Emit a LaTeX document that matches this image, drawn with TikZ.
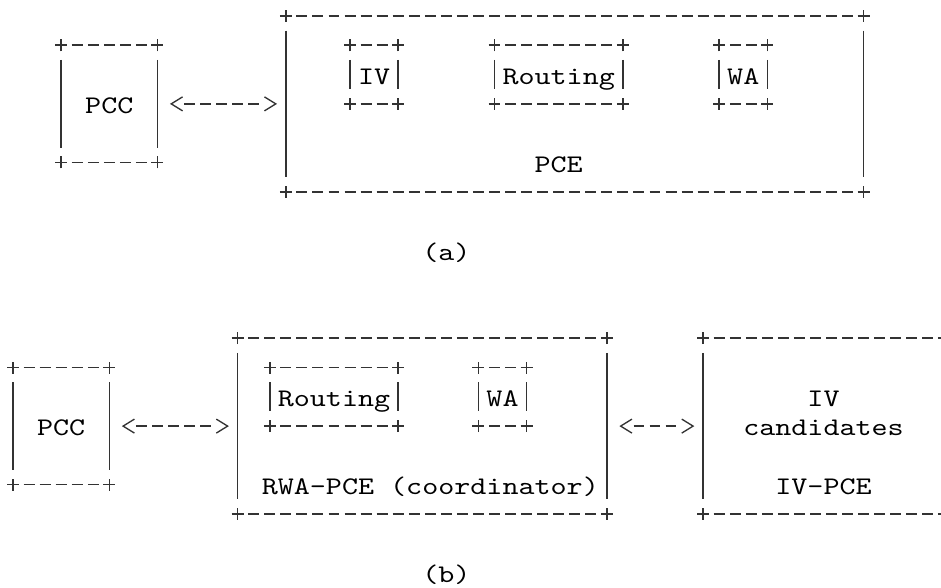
\documentclass[tikz,border=0pt]{standalone}
\usepackage{fontspec}
\usepackage{tikz}
\usetikzlibrary{arrows.meta}
\newfontfamily\rfcMono{lmmono10-regular}[Extension=.otf, FakeStretch=1.207]
\colorlet{colStroke}{black!80}

\begin{document}
\begin{tikzpicture}[
        x=12.04pt, y=-21.975pt,
        monoText/.style={font=\rfcMono\fontsize{19pt}{22pt}\selectfont, inner sep=0pt, outer sep=0pt, text height=16.8pt, text depth=2pt},
        asciiBox/.style 2 args={monoText, rectangle, minimum width=#1*12.04pt, minimum height=#2*21.975pt},
        dashRule/.style={draw=colStroke, line width=1.2pt, dash pattern=on 8.19pt off 3.85pt, dash phase=10.11pt},
        barRule/.style={draw=colStroke, line width=1.2pt},
        link/.style={draw=colStroke, line width=1.2pt, shorten <=20pt, shorten >=20pt, dash pattern=on 8.19pt off 3.85pt,
            postaction={draw=colStroke, line width=1pt, {Straight Barb[length=8.5pt, width=10.5pt]}-{Straight Barb[length=8.5pt, width=10.5pt]},
                shorten <=9.4pt, shorten >=6.6pt, dash pattern=on 0pt off 500pt}}
    ]
        \useasboundingbox (-0.81, -0.546) rectangle (57.82, 19.52);

        % (a) PCC with a single PCE holding IV, Routing and WA
        \node[asciiBox={6}{4}] (pccA) at (6, 3) {PCC};
        \node[asciiBox={36}{6}] (pceA) at (35, 3) {};
        \node[asciiBox={3}{2}] (ivA) at (22.5, 2) {IV};
        \node[asciiBox={8}{2}] (routingA) at (34, 2) {Routing};
        \node[asciiBox={3}{2}] (waA) at (45.5, 2) {WA};
        \node[monoText] (pceLabel) at (34, 5) {PCE};
        \node[monoText] (capA) at (27, 8) {(a)};

        % (b) RWA-PCE coordinating with a separate IV-PCE
        \node[asciiBox={6}{4}] (pccB) at (3, 14) {PCC};
        \node[asciiBox={23}{6}] (rwaB) at (25.5, 14) {};
        \node[asciiBox={8}{2}] (routingB) at (20, 13) {Routing};
        \node[asciiBox={3}{2}] (waB) at (30.5, 13) {WA};
        \node[monoText] (rwaLabel) at (26, 16) {RWA-PCE (coordinator)};
        \node[asciiBox={15}{6}] (ivpceB) at (50.5, 14) {};
        \node[monoText] (ivLine) at (50.5, 13) {IV};
        \node[monoText] (candLine) at (50.5, 14) {candidates};
        \node[monoText] (ivpceLabel) at (50.5, 16) {IV-PCE};
        \node[monoText] (capB) at (27, 19) {(b)};

        % Outlines: dashed tops and bottoms, bars on the sides, + at the corners
        \foreach \b in {pccA,pceA,ivA,routingA,waA,pccB,rwaB,routingB,waB,ivpceB}{
            \draw[dashRule] ([xshift=6.02pt]\b.north west) -- ([xshift=-6.02pt]\b.north east);
            \draw[dashRule] ([xshift=6.02pt]\b.south west) -- ([xshift=-6.02pt]\b.south east);
            \draw[barRule] ([yshift=-10.99pt]\b.north west) -- ([yshift=10.99pt]\b.south west);
            \draw[barRule] ([yshift=-10.99pt]\b.north east) -- ([yshift=10.99pt]\b.south east);
            \foreach \c in {north west,north east,south west,south east}
                \draw[barRule] ([xshift=-4.5pt]\b.\c) -- ([xshift=4.5pt]\b.\c)
                               ([yshift=-4.5pt]\b.\c) -- ([yshift=4.5pt]\b.\c);
        }

        % Two-way links
        \draw[link] (pccA) -- (pceA);
        \draw[link] (pccB) -- (rwaB);
        \draw[link] (rwaB) -- (ivpceB);
    \end{tikzpicture}
\end{document}
